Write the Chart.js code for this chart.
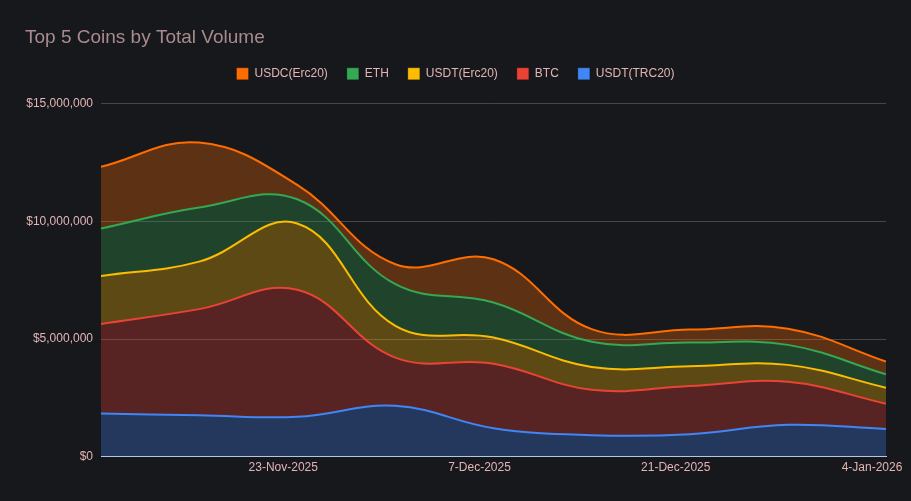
<!DOCTYPE html>
<html>
<head>
<meta charset="utf-8">
<script src="https://cdn.jsdelivr.net/npm/chart.js@4"></script>
<style>
  html, body { margin: 0; padding: 0; background: #17181c; }
  #wrap { width: 911px; height: 501px; }
</style>
</head>
<body>
<div id="wrap"><canvas id="volume"></canvas></div>
<script>
// weekly buckets (Monday)
const weeks = ["2025-11-10", "2025-11-17", "2025-11-24", "2025-12-01", "2025-12-08",
               "2025-12-15", "2025-12-22", "2025-12-29", "2026-01-05"];
const tickDates = ["2025-11-23", "2025-12-07", "2025-12-21", "2026-01-04"];
const tickLabels = ["23-Nov-2025", "7-Dec-2025", "21-Dec-2025", "4-Jan-2026"];
const yTicks = [0, 5000000, 10000000, 15000000];

// volumes per coin (USD)
const usdtTrc20 = [1830000, 1760000, 1690000, 2160000, 1210000, 910000, 950000, 1350000, 1170000];
const btc       = [3810000, 4510000, 5400000, 2050000, 2740000, 1930000, 2050000, 1830000, 1080000];
const usdtErc20 = [2040000, 2020000, 2820000, 1350000, 1110000, 970000, 840000, 720000, 680000];
const eth       = [2020000, 2300000, 1030000, 1770000, 1490000, 1070000, 1010000, 850000, 570000];
const usdcErc20 = [2620000, 2760000, 610000, 850000, 1840000, 540000, 550000, 690000, 540000];

const DAY = 86400000;
const t0 = Date.parse(weeks[0]);
const dayOf = (s) => (Date.parse(s) - t0) / DAY;
const pts = (vals) => vals.map((v, i) => ({ x: dayOf(weeks[i]), y: v }));

const series = [
  { label: "USDT(TRC20)", data: usdtTrc20, color: "#4285f4" },
  { label: "BTC", data: btc, color: "#ea4335" },
  { label: "USDT(Erc20)", data: usdtErc20, color: "#fbbc04" },
  { label: "ETH", data: eth, color: "#34a853" },
  { label: "USDC(Erc20)", data: usdcErc20, color: "#ff6d01" },
];

const hexA = (hex, a) => {
  const n = parseInt(hex.slice(1), 16);
  return "rgba(" + (n >> 16) + "," + ((n >> 8) & 255) + "," + (n & 255) + "," + a + ")";
};

// extra room under the legend
const legendGap = {
  id: "legendGap",
  beforeInit(chart) {
    const fit = chart.legend.fit;
    chart.legend.fit = function () {
      fit.bind(chart.legend)();
      this.height += 14;
    };
  },
};

Chart.defaults.font.family = "'Liberation Sans', Arial, sans-serif";
Chart.defaults.color = "#e2b4b6";

new Chart(document.getElementById("volume").getContext("2d"), {
  type: "line",
  data: {
    datasets: series.map((s, i) => ({
      label: s.label,
      data: pts(s.data),
      borderColor: s.color,
      backgroundColor: hexA(s.color, 0.3),
      borderWidth: 2,
      pointRadius: 0,
      tension: 0.4,
      fill: i === 0 ? "origin" : "-1",
    })),
  },
  plugins: [legendGap],
  options: {
    responsive: true,
    maintainAspectRatio: false,
    animation: false,
    layout: { padding: { left: 25, right: 25, top: 0, bottom: 22 } },
    plugins: {
      title: {
        display: true,
        text: "Top 5 Coins by Total Volume",
        align: "start",
        color: "#a88b8c",
        font: { size: 19, weight: "normal" },
        padding: { top: 26, bottom: 0 },
      },
      legend: {
        reverse: true,
        labels: {
          boxWidth: 12,
          boxHeight: 12,
          padding: 19,
          color: "#e2b4b6",
          font: { size: 12 },
          generateLabels: (chart) =>
            chart.data.datasets.map((d, i) => ({
              text: d.label,
              fillStyle: d.borderColor,
              strokeStyle: "rgba(0,0,0,0.25)",
              lineWidth: 1,
              fontColor: "#e2b4b6",
              datasetIndex: i,
            })),
        },
      },
      tooltip: { enabled: false },
    },
    scales: {
      x: {
        type: "linear",
        min: 0,
        max: dayOf(weeks[weeks.length - 1]),
        afterBuildTicks: (axis) => {
          axis.ticks = tickDates.map((d) => ({ value: dayOf(d) }));
        },
        ticks: {
          autoSkip: false,
          maxRotation: 0,
          padding: 4,
          font: { size: 12 },
          callback: (v) => tickLabels[tickDates.findIndex((d) => dayOf(d) === v)],
        },
        grid: { display: false, drawTicks: false },
        border: { display: true, color: "#b9c9e6", width: 1 },
      },
      y: {
        stacked: true,
        min: 0,
        max: 15000000,
        afterBuildTicks: (axis) => {
          axis.ticks = yTicks.map((v) => ({ value: v }));
        },
        afterFit: (axis) => { axis.width = 76; },
        ticks: {
          padding: 8,
          font: { size: 12 },
          callback: (v) => "$" + v.toLocaleString("en-US"),
        },
        grid: { color: "#45464a", drawTicks: false },
        border: { display: false },
      },
    },
  },
});
</script>
</body>
</html>
